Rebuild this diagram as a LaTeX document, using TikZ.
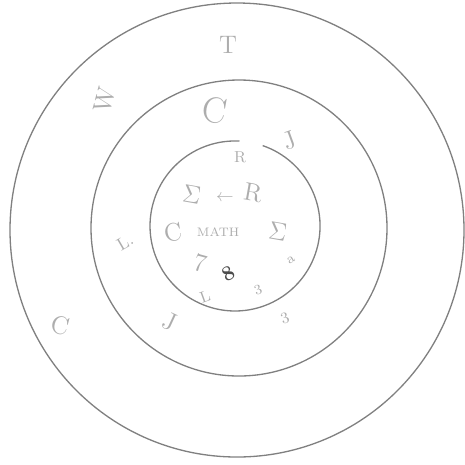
\documentclass[tikz,border=0pt]{standalone}
\usepackage{tikz}

\begin{document}
\begin{tikzpicture}[x = 0.02cm, y = -0.02cm,
    ring/.style = {draw = black!50, line width = 0.75pt},
    scrawl/.style = {text = black!32, font = \Large}]
        \useasboundingbox (0, 0) rectangle (465, 464);

        \draw [ring] (237, 230) circle [radius = 227];
        \draw [ring] (239, 228) circle [radius = 148];
        \draw [ring] (262.7, 145.6) arc [start angle = 289, end angle = 633, radius = 85];

        % outer ring
        \node [scrawl] (t) at (228, 45) {T};
        \node [scrawl, rotate = 75] (w) at (105, 100) {W};
        \node [scrawl, rotate = -15] (c1) at (60, 325) {C};

        % middle ring
        \node [scrawl, font = \huge, rotate = -10] (c2) at (215, 110) {C};
        \node [scrawl, rotate = 20] (j1) at (290, 140) {J};
        \node [scrawl, font = \normalsize, rotate = 30] (l1) at (125, 242) {L.};
        \node [scrawl, rotate = -25] (j2) at (170, 322) {J};
        \node [scrawl, font = \small, rotate = 20] (three) at (285, 318) {3};

        % inner circle
        \node [scrawl, font = \small] (r1) at (240, 157) {R};
        \node [scrawl, rotate = -10] (sig1) at (192, 195) {$\Sigma$};
        \node [scrawl, font = \normalsize] (arr) at (225, 198) {$\leftarrow$};
        \node [scrawl, rotate = -10] (r2) at (253, 193) {R};
        \node [scrawl, rotate = 10] (c3) at (173, 232) {C};
        \node [scrawl, font = \scriptsize] (math) at (218, 232) {MATH};
        \node [scrawl, rotate = -10] (sig2) at (278, 232) {$\Sigma$};
        \node [scrawl, rotate = -15] (seven) at (200, 263) {7};
        \node [text = black!70, font = \large\bfseries, rotate = 30] (eight) at (228, 274) {8};
        \node [scrawl, font = \small, rotate = 20] (l2) at (205, 297) {L};
        \node [scrawl, font = \footnotesize, rotate = 30] (a) at (291, 260) {a};
        \node [scrawl, font = \footnotesize, rotate = 20] (s) at (258, 290) {3};
\end{tikzpicture}
\end{document}
